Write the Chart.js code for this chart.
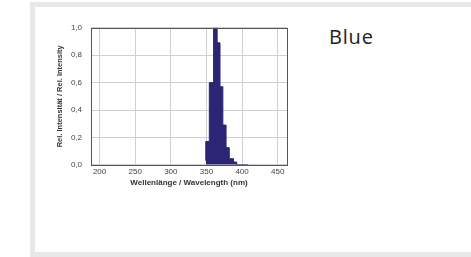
<!DOCTYPE html>
<html>
<head>
<meta charset="utf-8">
<script src="https://cdn.jsdelivr.net/npm/chart.js@4"></script>
<style>
  html, body { margin: 0; padding: 0; background: #fff; }
  body { width: 471px; height: 257px; position: relative; overflow: hidden; }
  .frame { position: absolute; left: 30px; top: 2px; width: 460px; height: 245px; border: 5px solid #e8e8e8; }
  .title { position: absolute; left: 329px; top: 23px; font-family: "Open Sans", "Noto Sans", sans-serif; font-size: 20px; letter-spacing: 0.8px; color: #222; }
  #wrap { position: absolute; left: 55px; top: 14px; width: 245px; height: 174px; }
</style>
</head>
<body>
<div class="frame"></div>
<div class="title">Blue</div>
<div id="wrap"><canvas id="c"></canvas></div>
<script>
// bin edges (nm) and relative intensity of each bin
const wavelengths = [349, 354, 360, 365, 369, 373, 377.5, 382, 388, 392.5, 408.5];
const intensity = [0.03, 0.17, 0.6, 1.0, 0.89, 0.57, 0.29, 0.125, 0.045, 0.02, 0];
const xTicks = [200, 250, 300, 350, 400, 450];
const yTicks = [0, 0.2, 0.4, 0.6, 0.8, 1.0];

const frame = {
  id: 'frame',
  afterDraw(chart) {
    const a = chart.chartArea;
    const ctx = chart.ctx;
    ctx.save();
    ctx.strokeStyle = '#555';
    ctx.lineWidth = 1;
    ctx.strokeRect(Math.round(a.left) + 0.5, Math.round(a.top) + 0.5, Math.round(a.right - a.left), Math.round(a.bottom - a.top));
    ctx.restore();
  }
};

const tickFont = { family: 'Liberation Sans, Arial, sans-serif', size: 8 };

new Chart(document.getElementById('c').getContext('2d'), {
  type: 'line',
  data: {
    datasets: [{
      data: wavelengths.map((w, i) => ({ x: w, y: intensity[i] })),
      stepped: 'after',
      fill: 'origin',
      backgroundColor: '#2c2575',
      borderColor: '#2c2575',
      borderWidth: 1,
      pointRadius: 0,
    }],
  },
  options: {
    responsive: true,
    maintainAspectRatio: false,
    animation: false,
    layout: { padding: { top: 3, right: 13, left: 0, bottom: 0 } },
    plugins: { legend: { display: false }, tooltip: { enabled: false } },
    scales: {
      x: {
        type: 'linear',
        min: 188,
        max: 463,
        afterBuildTicks: (s) => { s.ticks = xTicks.map((v) => ({ value: v })); },
        grid: { color: '#d0d0d0', drawTicks: false },
        border: { display: false },
        ticks: { font: tickFont, color: '#444', padding: 2 },
        title: { display: true, text: 'Wellenlänge / Wavelength (nm)', font: { family: 'Liberation Sans, Arial, sans-serif', size: 8, weight: 'bold' }, color: '#333', padding: { top: 0, bottom: 0 } },
      },
      y: {
        min: 0,
        max: 1,
        afterBuildTicks: (s) => { s.ticks = yTicks.map((v) => ({ value: v })); },
        afterFit: (s) => { s.width = 36; },
        grid: { color: '#d0d0d0', drawTicks: false },
        border: { display: false },
        ticks: { font: tickFont, color: '#444', padding: 9, callback: (v) => v.toFixed(1).replace('.', ',') },
        title: { display: true, text: 'Rel. Intensität / Rel. Intensity', font: { family: 'Liberation Sans, Arial, sans-serif', size: 7.5, weight: 'bold' }, color: '#333', padding: 0 },
      },
    },
  },
  plugins: [frame],
});
</script>
</body>
</html>
